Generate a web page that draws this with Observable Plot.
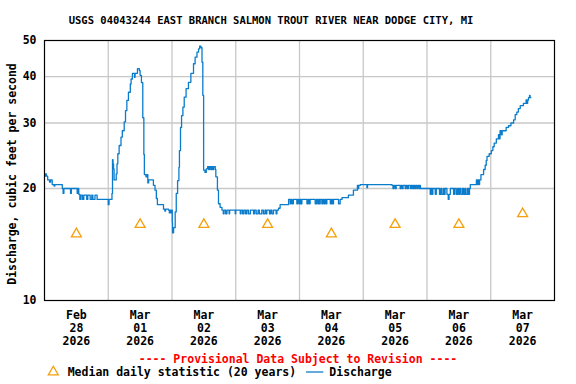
<!DOCTYPE html>
<html><head><meta charset="utf-8">
<script src="https://cdn.jsdelivr.net/npm/d3@7"></script>
<script src="https://cdn.jsdelivr.net/npm/@observablehq/plot@0.6"></script>
<style>body{margin:0;background:#fff} #chart svg{display:block}</style>
</head><body><div id="chart"></div>
<script>
const title = "USGS 04043244 EAST BRANCH SALMON TROUT RIVER NEAR DODGE CITY, MI";
const yLabel = "Discharge, cubic feet per second";
const provisional = "---- Provisional Data Subject to Revision ----";
const legendMedian = "Median daily statistic (20 years)";
const legendDischarge = "Discharge";
const startTime = "2026-02-28T00:00:00Z";

// hours since start, discharge (cfs)
const hours = [0.0,0.4,0.7,1.2,1.9,2.3,2.9,3.6,3.9,6.7,7.0,7.3,9.8,10.1,12.3,12.6,12.9,13.3,13.7,14.3,14.8,15.9,16.3,17.2,17.8,18.2,19.0,19.8,
 24.0,24.3,25.4,25.6,25.8,26.0,26.2,27.0,27.3,27.6,28.1,28.8,29.3,30.0,30.5,31.0,31.6,32.3,32.6,33.1,33.9,34.1,35.0,35.7,36.0,36.5,37.0,37.4,37.6,38.2,38.6,38.9,39.2,
 41.0,41.6,42.1,42.5,44.8,45.3,45.6,46.7,47.0,47.3,47.6,47.9,48.1,48.2,48.6,49.2,49.6,50.1,50.6,50.8,51.2,51.6,52.1,52.6,53.3,54.2,55.1,56.1,56.7,57.4,58.0,58.4,58.9,59.3,59.6,59.9,60.4,60.9,61.4,61.8,62.1,62.6,62.9,63.3,63.7,64.3,64.5,65.1,65.5,66.1,66.8,
 67.3,67.6,68.2,68.7,69.5,69.7,71.8,72.0,73.7,74.0,74.6,75.1,75.7,76.2,76.8,77.5,78.7,79.1,79.7,80.4,80.9,81.8,82.4,83.0,83.4,83.7,84.7,85.1,85.6,86.2,87.2,87.5,88.1,88.7,
 91.9,92.5,92.8,93.2,93.7,95.0,95.4,95.9,96.3,96.6,96.9,98.8,99.2,99.6,100.0,101.9,102.4,102.9,103.3,103.6,103.8,104.4,104.8,105.2,105.6,106.0,106.3,107.6,108.0,108.4,108.8,110.7,111.3,112.0,114.4,116.3,117.8,118.1,118.3,118.9,121.4,121.6,
 130.8,131.2,131.5,132.0,132.4,133.9,134.2,134.6,135.0,135.8,136.1,136.6,137.0,137.7,138.1,138.6,139.0,139.4,139.7,140.2,140.6,141.1,141.3,
 141.5,145.2,145.5,145.9,146.2,147.1,147.5,148.7,149.2,149.6,150.2,150.5,150.8,151.5,152.0,152.3,152.8,154.0,154.4,155.0,155.5,155.9,156.3,156.8,157.4,157.8,158.3,158.6,159.2,159.6,160.0,
 160.3,162.6,162.9,163.2,163.6,163.8,164.3,165.3,165.9,166.3,166.6,167.4,168.2,168.8,169.3,170.1,170.9,171.2,171.5,172.0,172.3,173.8,174.7,175.6,176.6,177.2,177.8,178.4,179.1,180.3,181.3,181.6,181.9,182.2,182.6,182.8,183.1];
const cfs = [21.6,21.9,21.6,21.1,20.8,21.1,20.5,20.3,20.5,20.0,19.4,20.0,19.4,20.0,19.4,20.0,19.3,18.7,19.2,18.7,19.2,18.7,19.2,18.7,19.2,18.7,19.2,18.7,
 18.1,18.7,19.4,23.9,23.3,22.6,21.1,21.9,23.3,24.8,26.1,27.5,28.6,30.2,32.4,34.5,36.3,38.2,39.4,40.8,39.8,40.8,42.0,41.5,40.3,38.5,31.0,24.7,21.8,21.5,21.8,20.7,21.1,
 20.4,19.8,18.8,18.1,17.6,17.4,17.6,17.5,17.2,17.5,17.2,17.5,16.2,15.2,15.7,17.3,19.4,21.0,22.8,25.3,29.2,31.4,33.1,35.2,37.1,38.6,40.8,43.3,45.1,46.5,47.5,48.3,47.8,43.7,35.6,22.4,22.1,22.6,22.9,22.5,22.9,22.5,22.9,22.5,22.9,22.5,21.5,19.8,18.2,17.8,17.5,
 17.1,17.5,17.1,17.5,17.1,17.5,17.1,17.5,17.1,17.5,17.1,17.5,17.1,17.5,17.1,17.5,17.1,17.5,17.1,17.5,17.1,17.5,17.1,17.5,17.1,17.5,17.1,17.5,17.1,17.5,17.1,17.5,17.7,18.1,
 18.7,18.2,18.7,18.2,18.7,18.2,18.7,18.2,18.7,18.2,18.7,18.2,18.7,18.2,18.7,18.2,18.7,18.2,18.7,18.2,18.7,18.2,18.7,18.2,18.7,18.2,18.7,18.2,18.7,18.2,18.7,18.2,18.7,18.9,19.2,19.8,20.4,20.0,20.4,20.5,20.1,20.5,
 20.4,20.0,20.4,20.0,20.4,20.0,20.4,20.0,20.4,20.0,20.4,20.0,20.4,20.0,20.4,20.0,20.4,20.0,20.4,20.0,20.4,20.0,20.4,
 20.0,19.3,20.0,19.3,20.0,19.3,20.0,19.3,20.0,19.3,20.0,19.3,20.0,19.3,18.7,19.3,20.0,19.3,20.0,19.3,20.0,19.3,20.0,19.3,20.0,19.3,20.0,19.3,20.0,19.3,20.0,
 20.5,21.1,20.5,21.1,20.5,21.1,21.8,22.5,23.1,23.8,24.4,24.8,25.3,25.9,26.5,27.2,27.9,27.2,28.6,27.9,28.6,29.2,29.5,30.0,30.6,31.6,32.1,32.8,33.4,33.9,34.6,33.9,34.6,35.1,35.6,35.1,35.1];

const days = ["2026-02-28","2026-03-01","2026-03-02","2026-03-03","2026-03-04","2026-03-05","2026-03-06","2026-03-07"];
const dayLabels = ["Feb\n28\n2026","Mar\n01\n2026","Mar\n02\n2026","Mar\n03\n2026","Mar\n04\n2026","Mar\n05\n2026","Mar\n06\n2026","Mar\n07\n2026"];
const medianCfs = [15.1, 16.0, 16.0, 16.0, 15.1, 16.0, 16.0, 17.1];
const yTicks = [10, 20, 30, 40, 50];
const yGrid = [20, 30, 40];

const t0 = new Date(startTime).getTime();
const flow = hours.map((h, i) => ({date: new Date(t0 + h * 3600e3), cfs: cfs[i]}));
const noon = days.map(d => new Date(d + "T12:00:00Z"));
const midnights = days.slice(1).map(d => new Date(d + "T00:00:00Z"));
const medians = noon.map((d, i) => ({date: d, cfs: medianCfs[i]}));
const labelByTime = new Map(noon.map((d, i) => [+d, dayLabels[i]]));

const blue = "#0a7ccb", orange = "#f5a00a";
const plot = Plot.plot({
  width: 576, height: 384, marginTop: 40, marginBottom: 84, marginLeft: 44, marginRight: 22,
  style: {fontFamily: "'DejaVu Sans Mono', monospace", fontSize: "11.5px", fontWeight: "bold", color: "#000", background: "#fff"},
  x: {type: "utc", domain: [new Date("2026-02-28T00:00:00Z"), new Date("2026-03-08T00:00:00Z")]},
  y: {type: "log", domain: [10, 50]},
  marks: [
    Plot.gridX(midnights, {stroke: "#c8c8c8", strokeOpacity: 1, strokeWidth: 1.3}),
    Plot.gridY(yGrid, {stroke: "#c8c8c8", strokeOpacity: 1, strokeWidth: 1.3}),
    Plot.axisY(yTicks, {tickSize: 0, tickPadding: 8, tickFormat: d => String(d), label: null}),
    Plot.axisX(noon, {tickSize: 0, tickPadding: 9, tickFormat: d => labelByTime.get(+d), label: null, lineHeight: 1.15}),
    Plot.dot(medians, {x: "date", y: "cfs", symbol: "triangle", r: 3.7, stroke: orange, strokeWidth: 1.3, fill: "none"}),
    Plot.line(flow, {x: "date", y: "cfs", curve: "step-after", stroke: blue, strokeWidth: 1.3}),
    Plot.frame({stroke: "#000", strokeWidth: 1.2})
  ]
});
document.getElementById("chart").append(plot);

const svg = d3.select(plot);
const font = "'DejaVu Sans Mono', monospace";
function addText(x, y, str, opts = {}) {
  return svg.append("text").attr("x", x).attr("y", y).attr("dy", "0.35em")
    .attr("text-anchor", opts.anchor || "start")
    .attr("font-family", font).attr("font-size", opts.size || "11.5px").attr("font-weight", "bold")
    .attr("fill", opts.fill || "#000").text(str);
}
addText(271, 20.7, title, {anchor: "middle", size: "10.5px"});
addText(0, 0, yLabel, {anchor: "middle"}).attr("transform", "translate(11.7,174) rotate(-90)");
addText(298, 359, provisional, {anchor: "middle", fill: "#ff0000"});
svg.append("path").attr("transform", "translate(53.3,372)").attr("d", d3.symbol(d3.symbolTriangle, Math.PI * 3.7 * 3.7)())
  .attr("fill", "none").attr("stroke", orange).attr("stroke-width", 1.3);
addText(67.7, 372.3, legendMedian);
svg.append("line").attr("x1", 306).attr("x2", 323.3).attr("y1", 372).attr("y2", 372).attr("stroke", blue).attr("stroke-width", 1.3);
addText(329.3, 372.3, legendDischarge);
</script>
</body></html>
